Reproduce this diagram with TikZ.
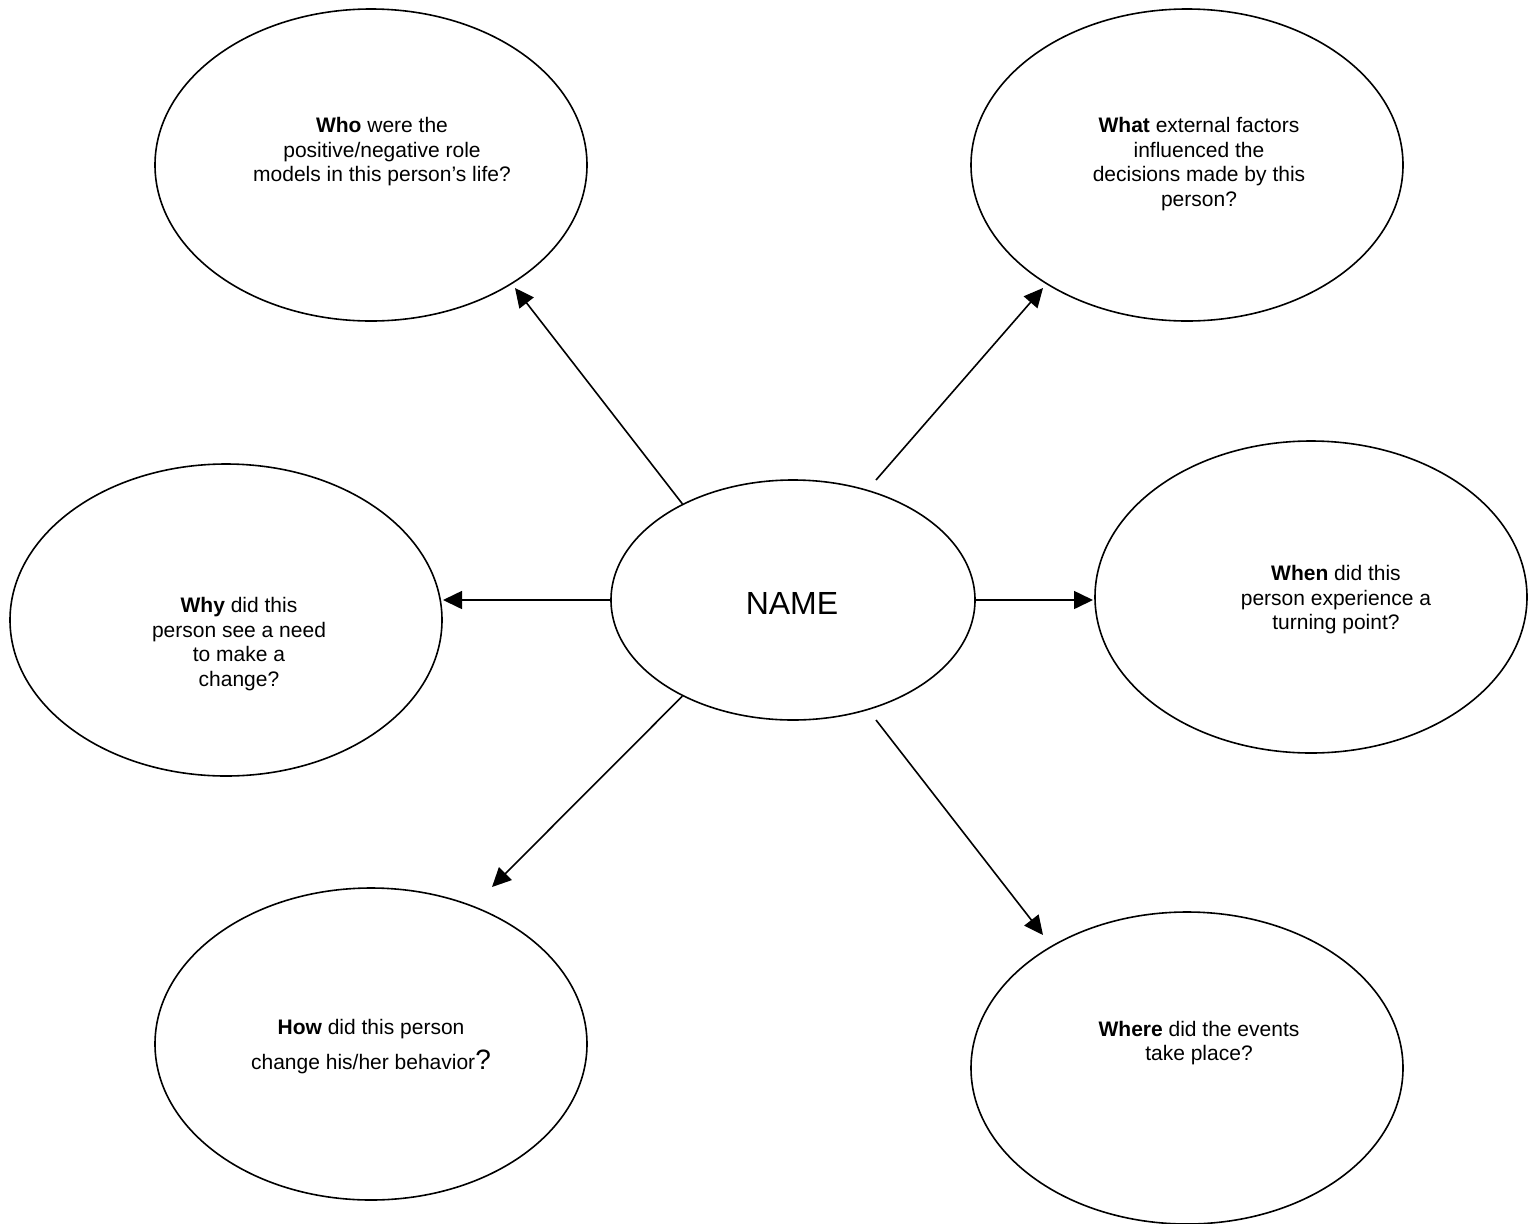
\documentclass[tikz,border=0pt]{standalone}
\usepackage{fontspec}
\setmainfont{Liberation Sans}
\usetikzlibrary{shapes.geometric,arrows.meta}
\begin{document}
\begin{tikzpicture}[x=1pt,y=-1pt,
  bubble/.style={draw=black,line width=1.6pt,ellipse,minimum width=432pt,minimum height=312pt,inner sep=0pt},
  hub/.style={draw=black,line width=1.6pt,ellipse,minimum width=364pt,minimum height=240pt,inner sep=0pt,font=\fontsize{32}{38}\selectfont},
  qtext/.style={align=center,font=\fontsize{21}{24.5}\selectfont,inner sep=0pt},
  link/.style={line width=1.6pt,-{Triangle[length=19pt,width=18pt]}}]
\useasboundingbox (0,0) rectangle (1535,1224);

% ellipses
\node[bubble] (who)   at (371,165)  {};
\node[bubble] (what)  at (1187,165) {};
\node[bubble] (why)   at (226,620)  {};
\node[bubble] (when)  at (1311,597) {};
\node[bubble] (how)   at (371,1044) {};
\node[bubble] (where) at (1187,1068) {};
\node[hub]    (hub)   at (793,600)  {};

% texts
\node[hub,draw=none,minimum width=0pt,minimum height=0pt,rectangle] (name) at (792,603) {NAME};
\node[qtext] (whot) at (382,152) {\textbf{Who} were the\\positive/negative role\\models in this person’s life?};
\node[qtext] (whatt) at (1199,164) {\textbf{What} external factors\\influenced the\\decisions made by this\\person?};
\node[qtext] (whyt) at (239,644) {\textbf{Why} did this\\person see a need\\to make a\\change?};
\node[qtext] (whent) at (1336,600) {\textbf{When} did this\\person experience a\\turning point?};
\node[qtext,font=\fontsize{21}{35}\selectfont] (howt) at (371,1047) {\textbf{How} did this person\\change his/her behavior{\fontsize{28}{30}\selectfont ?}};
\node[qtext] (wheret) at (1199,1043) {\textbf{Where} did the events\\take place?};

% connector end points
\coordinate (whotip)   at (515,288);
\coordinate (whatsrc)  at (876,480);
\coordinate (whattip)  at (1043,288);
\coordinate (whytip)   at (443,600);
\coordinate (whentip)  at (1093,600);
\coordinate (howtip)   at (492,887);
\coordinate (wheresrc) at (876,720);
\coordinate (wheretip) at (1043,935);

% connectors
\draw[link] (hub.139) -- (whotip);
\draw[link] (whatsrc) -- (whattip);
\draw[link] (hub.west) -- (whytip);
\draw[link] (hub.east) -- (whentip);
\draw[link] (hub.221) -- (howtip);
\draw[link] (wheresrc) -- (wheretip);
\end{tikzpicture}
\end{document}
